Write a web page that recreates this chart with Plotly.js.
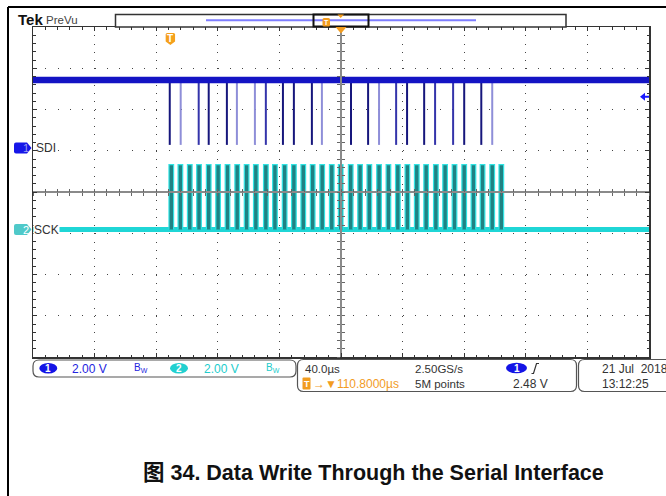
<!DOCTYPE html>
<html><head><meta charset="utf-8">
<script src="https://cdn.plot.ly/plotly-3.0.1.min.js"></script>
<style>html,body{margin:0;padding:0;background:#fff;}#chart{width:666px;height:496px;}</style>
</head><body><div id="chart"></div>
<script>
// ---------------- data ----------------
const timeWindow = [-200, 200];          // µs on screen (40 µs/div, 10 div)
const timePerDiv = 40;
const voltsPerDiv = [2.00, 2.00];        // CH1, CH2
const groundOffsetDiv = [1.067, -0.91];  // channel ground positions (div from centre)
const channelNames = ['SDI', 'SCK'];

const sdiHigh = 3.3;                     // V
const sdiLow = 0.15;                     // V
const sdiPulseTimes = [-111.2, -104.1, -92.4, -85.9, -74.1, -67.6, -55.9, -48.8, -37.7, -30.6, -18.9, -12.4,
                       6.5, 17.6, 24.7, 35.8, 42.9, 54.0, 61.1, 72.8, 80.0, 91.1, 98.2];
const sdiPulseShade = ['d','l','m','d','d','l','l','m','d','d','d','l',
                       'd','d','l','m','d','d','m','m','d','d','l'];

const sckHigh = 3.15;                    // V
const sckPulseWidth = 3.0;               // µs
const sckPulseCenters = [-110.2, -104.3, -98.2, -92.2, -85.9, -79.8, -73.7, -67.4, -61.3, -55.3, -48.8, -42.9,
                         -36.6, -30.6, -24.5, -18.4, -12.2, -6.0, -0.2, 6.3, 12.4, 18.4, 24.7, 30.8,
                         36.9, 43.1, 49.2, 55.3, 61.6, 67.6, 73.7, 80.0, 86.0, 91.9, 98.2, 104.1];

const triggerTime = -110.8;              // µs
const triggerLevel = 2.48;               // V on CH1

const ch1ScaleText = '2.00 V';
const ch2ScaleText = '2.00 V';
const timebaseText = '40.0µs';
const sampleRateText = '2.50GS/s';
const delayText = '→▼110.8000µs';
const recordText = '5M points';
const trigLevelText = '2.48 V';
const dateText = '21 Jul\u00a0\u00a02018';
const timeText = '13:12:25';
const captionText = '图 34. Data Write Through the Serial Interface';

// ---------------- helpers (page geometry) ----------------
const L = 33, R = 649, T = 27, B = 357;
const px = x => (x - L) / (R - L);
const py = y => (B - y) / (B - T);
const P = (x, y) => px(x) + ',' + py(y);
function rrect(x0, y0, x1, y1, r) {
  return `M${P(x0 + r, y0)} L${P(x1 - r, y0)} Q${P(x1, y0)} ${P(x1, y0 + r)} L${P(x1, y1 - r)} Q${P(x1, y1)} ${P(x1 - r, y1)} ` +
         `L${P(x0 + r, y1)} Q${P(x0, y1)} ${P(x0, y1 - r)} L${P(x0, y0 + r)} Q${P(x0, y0)} ${P(x0 + r, y0)} Z`;
}
const chRange = i => [(-4 - groundOffsetDiv[i]) * voltsPerDiv[i], (4 - groundOffsetDiv[i]) * voltsPerDiv[i]];

const FONT = "'Liberation Sans', Arial, sans-serif";
const BLUE = '#2424e0', CYAN = '#22cccc', ORANGE = '#f29c1f', TXT = '#333333';

// ---------------- traces ----------------
const traces = [];
const dummy = (xa, ya) => ({x: [], y: [], xaxis: xa, yaxis: ya, mode: 'lines', hoverinfo: 'skip', showlegend: false});
traces.push(dummy('x', 'y'));

// SCK (channel 2)
traces.push({x: timeWindow, y: [0, 0], xaxis: 'x', yaxis: 'y3', mode: 'lines',
  line: {color: '#1fd6d6', width: 5}, hoverinfo: 'skip', showlegend: false});
const sx = [], sy = [];
sckPulseCenters.forEach(c => {
  sx.push(c - sckPulseWidth / 2, c - sckPulseWidth / 2, c + sckPulseWidth / 2, c + sckPulseWidth / 2, null);
  sy.push(0, sckHigh, sckHigh, 0, null);
});
traces.push({x: sx, y: sy, xaxis: 'x', yaxis: 'y3', mode: 'lines', fill: 'toself', fillcolor: '#1f8283',
  line: {color: '#30e4e4', width: 1.2}, hoverinfo: 'skip', showlegend: false});

// SDI (channel 1)
const shadeColor = {d: '#16167c', m: '#3434aa', l: '#8e8ed8'};
['l', 'm', 'd'].forEach(s => {
  const x = [], y = [];
  sdiPulseTimes.forEach((t, i) => { if (sdiPulseShade[i] === s) { x.push(t, t, null); y.push(sdiHigh, sdiLow, null); } });
  traces.push({x, y, xaxis: 'x', yaxis: 'y2', mode: 'lines', line: {color: shadeColor[s], width: 2},
    hoverinfo: 'skip', showlegend: false});
});
traces.push({x: timeWindow, y: [sdiHigh, sdiHigh], xaxis: 'x', yaxis: 'y2', mode: 'lines',
  line: {color: '#1414c4', width: 6.5}, hoverinfo: 'skip', showlegend: false});

traces.push(dummy('x2', 'y'), dummy('x3', 'y'), dummy('x', 'y4'), dummy('x', 'y5'));

// ---------------- axes ----------------
const frame = {showticklabels: false, showline: true, linecolor: '#333', linewidth: 1.5, mirror: 'ticks',
  ticks: 'inside', ticklen: 4, tickcolor: '#333', tickwidth: 1, zeroline: false, showgrid: true,
  gridcolor: '#444', gridwidth: 1, fixedrange: true, tickmode: 'linear', tick0: 0};
const cross = {showticklabels: false, showgrid: false, zeroline: false, fixedrange: true, tickmode: 'linear',
  tick0: 0, ticklen: 3, tickcolor: '#666', tickwidth: 1, anchor: 'free', position: 0.5, layer: 'above traces'};

const layout = {
  width: 666, height: 496, margin: {l: L, r: 666 - R, t: T, b: 496 - B, pad: 0},
  paper_bgcolor: '#fff', plot_bgcolor: '#fff', showlegend: false,
  font: {family: FONT, size: 12, color: TXT},
  xaxis: Object.assign({}, frame, {range: timeWindow, dtick: timePerDiv, griddash: '1px,7.25px',
    minor: {dtick: timePerDiv / 5, tick0: 0, ticks: 'inside', ticklen: 2.5, tickcolor: '#333', showgrid: false}}),
  yaxis: Object.assign({}, frame, {range: [-4, 4], dtick: 1, griddash: '1px,11.32px',
    minor: {dtick: 0.2, tick0: 0, ticks: 'inside', ticklen: 2.5, tickcolor: '#333', showgrid: false}}),
  yaxis2: {overlaying: 'y', range: chRange(0), visible: false, fixedrange: true},
  yaxis3: {overlaying: 'y', range: chRange(1), visible: false, fixedrange: true},
  xaxis2: Object.assign({}, cross, {overlaying: 'x', range: timeWindow, dtick: timePerDiv / 5, ticks: 'outside',
    showline: true, linecolor: '#8a8a8a', linewidth: 2}),
  xaxis3: Object.assign({}, cross, {overlaying: 'x', range: timeWindow, dtick: timePerDiv / 5, ticks: 'inside', showline: false}),
  yaxis4: Object.assign({}, cross, {overlaying: 'y', range: [-4, 4], dtick: 0.2, ticks: 'outside',
    showline: true, linecolor: '#8a8a8a', linewidth: 2}),
  yaxis5: Object.assign({}, cross, {overlaying: 'y', range: [-4, 4], dtick: 0.2, ticks: 'inside', showline: false}),
  shapes: [], annotations: []
};

const S = layout.shapes, A = layout.annotations;
const pp = {xref: 'paper', yref: 'paper'};
// outer page frame
S.push(Object.assign({type: 'line', x0: px(8), y0: py(7), x1: px(680), y1: py(7), line: {color: '#000', width: 2}}, pp));
S.push(Object.assign({type: 'line', x0: px(8), y0: py(7), x1: px(8), y1: py(520), line: {color: '#000', width: 2}}, pp));
// record bar
S.push(Object.assign({type: 'rect', x0: px(115.5), y0: py(14.5), x1: px(566), y1: py(27), line: {color: '#333', width: 1.5}, fillcolor: '#fff'}, pp));
S.push(Object.assign({type: 'line', x0: px(206), y0: py(20.3), x1: px(476), y1: py(20.3), line: {color: '#7d7dff', width: 2}}, pp));
S.push(Object.assign({type: 'rect', x0: px(313.5), y0: py(14.5), x1: px(368.5), y1: py(26.5), line: {color: '#111', width: 2}}, pp));
S.push(Object.assign({type: 'path', path: rrect(322.5, 18, 330, 26.5, 1.5), fillcolor: ORANGE, line: {width: 0}}, pp));
S.push(Object.assign({type: 'path', path: `M${P(337.5, 14.5)} L${P(344, 14.5)} L${P(340.7, 18)} Z`, fillcolor: ORANGE, line: {width: 0}}, pp));
// trigger position marker at top of graticule
S.push({type: 'path', xref: 'x', yref: 'paper', xsizemode: 'pixel', ysizemode: 'pixel', xanchor: 0, yanchor: 1,
  path: 'M-5.5,0 L5.5,0 L0,-6.5 Z', fillcolor: ORANGE, line: {width: 0}});
// trigger "T" shield
S.push({type: 'path', xref: 'x', yref: 'paper', xsizemode: 'pixel', ysizemode: 'pixel', xanchor: triggerTime, yanchor: py(39),
  path: 'M-4.7,4.5 Q-4.7,6 -3.2,6 L3.2,6 Q4.7,6 4.7,4.5 L4.7,-2.5 L0,-6 L-4.7,-2.5 Z', fillcolor: '#f5a11c', line: {width: 0}});
A.push({xref: 'x', yref: 'paper', x: triggerTime, y: py(38.5), yanchor: 'middle', text: '<b>T</b>', showarrow: false,
  font: {family: FONT, size: 10, color: '#fff'}});
A.push(Object.assign({x: px(326.2), y: py(22.2), yanchor: 'middle', text: '<b>T</b>', showarrow: false,
  font: {family: FONT, size: 7, color: '#fff'}}, pp));
// channel ground markers
const chMarker = (ya, fill) => ({type: 'path', xref: 'paper', yref: ya, xsizemode: 'pixel', ysizemode: 'pixel',
  xanchor: 0, yanchor: 0, path: 'M-17,-5.5 L-6,-5.5 L-1.5,0 L-6,5.5 L-17,5.5 Q-19,5.5 -19,3.5 L-19,-3.5 Q-19,-5.5 -17,-5.5 Z',
  fillcolor: fill, line: {width: 0}});
S.push(chMarker('y2', '#1616e8'));
S.push(chMarker('y3', '#4fc9c9'));
A.push({xref: 'paper', yref: 'y2', x: 0, y: 0, xshift: -12, yanchor: 'middle', text: '1', showarrow: false,
  font: {family: FONT, size: 11, color: '#9a9af0'}});
A.push({xref: 'paper', yref: 'y3', x: 0, y: 0, xshift: -12, yanchor: 'middle', text: '2', showarrow: false,
  font: {family: FONT, size: 11, color: '#ffffff'}});
A.push({xref: 'paper', yref: 'y2', x: 0, y: 0, xshift: 1, xanchor: 'left', yanchor: 'middle', text: channelNames[0], showarrow: false,
  font: {family: FONT, size: 12, color: TXT}});
A.push({xref: 'paper', yref: 'y3', x: 0, y: 0, xshift: 0, xanchor: 'left', yanchor: 'middle', text: channelNames[1], showarrow: false,
  bgcolor: '#fff', borderpad: 0, font: {family: FONT, size: 12, color: TXT}});
// trigger level arrow on the right
S.push({type: 'path', xref: 'paper', yref: 'y2', xsizemode: 'pixel', ysizemode: 'pixel', xanchor: 1, yanchor: triggerLevel,
  path: 'M-9,0 L-4,4 L-4,1 L0,1 L0,-1 L-4,-1 L-4,-4 Z', fillcolor: '#1a1aff', line: {width: 0}});
// "Tek PreVu"
A.push(Object.assign({x: px(15.5), y: py(20), xanchor: 'left', yanchor: 'middle', text: '<b>Tek</b>', showarrow: false,
  font: {family: FONT, size: 15, color: '#111'}}, pp));
A.push(Object.assign({x: px(43.5), y: py(20.5), xanchor: 'left', yanchor: 'middle', text: 'PreVu', showarrow: false,
  font: {family: FONT, size: 11.5, color: '#444'}}, pp));

// status bar boxes
const box = (x0, y0, x1, y1) => Object.assign({type: 'path', path: rrect(x0, y0, x1, y1, 6), line: {color: '#555', width: 1.2}}, pp);
S.push(box(33, 360, 296, 377));
S.push(box(297.5, 359.5, 576.5, 391.5));
S.push(box(578.5, 359.5, 700, 391.5));
const ell = (cx, cy, w, h, fill) => Object.assign({type: 'circle', x0: px(cx - w / 2), x1: px(cx + w / 2), y0: py(cy + h / 2), y1: py(cy - h / 2),
  fillcolor: fill, line: {width: 0}}, pp);
S.push(ell(48.3, 368.3, 18, 10.5, '#1414e6'));
S.push(ell(179, 368.3, 18, 10.5, '#22d0d0'));
S.push(ell(516.5, 368, 21, 10.5, '#1414e6'));
S.push(Object.assign({type: 'path', path: rrect(302.5, 377.5, 310.5, 389.5, 1), fillcolor: ORANGE, line: {width: 0}}, pp));
S.push(Object.assign({type: 'path', path: `M${P(531.5, 373.5)} L${P(533.5, 373.5)} L${P(536.5, 363.5)} L${P(539, 363.5)}`,
  line: {color: TXT, width: 1.2}}, pp));

const txt = (x, y, text, color, size, anchor, fam) => Object.assign({x: px(x), y: py(y), text, showarrow: false,
  xanchor: anchor || 'left', yanchor: 'middle', font: {family: fam || FONT, size: size || 12, color: color || TXT}}, pp);
A.push(txt(48.3, 368.5, '<b>1</b>', '#fff', 10, 'center'));
A.push(txt(179, 368.5, '<b>2</b>', '#fff', 10, 'center'));
A.push(txt(516.5, 368.2, '<b>1</b>', '#fff', 10, 'center'));
A.push(txt(306.5, 383.7, '<b>T</b>', '#fff', 9, 'center'));
A.push(txt(70, 368.5, ch1ScaleText, BLUE));
A.push(txt(132, 367.5, 'B<sub>W</sub>', BLUE, 10));
A.push(txt(202, 368.5, ch2ScaleText, CYAN));
A.push(txt(264, 367.5, 'B<sub>W</sub>', CYAN, 10));
A.push(txt(302.5, 368.5, timebaseText, TXT, 11.5));
A.push(txt(412.5, 368.5, sampleRateText, TXT, 11.5));
A.push(txt(310.5, 383.7, delayText, ORANGE, 12));
A.push(txt(412.5, 383.7, recordText, TXT, 11.5));
A.push(txt(510.5, 383.7, trigLevelText));
A.push(txt(599.5, 368.5, dateText));
A.push(txt(599.5, 383.7, timeText));
// caption
A.push(txt(373.5, 473, '<b>' + captionText + '</b>', '#111', 21.5, 'center',
  "'Liberation Sans', Arial, 'Noto Sans CJK SC', sans-serif"));

Plotly.newPlot('chart', traces, layout, {displayModeBar: false, staticPlot: true});
</script></body></html>
